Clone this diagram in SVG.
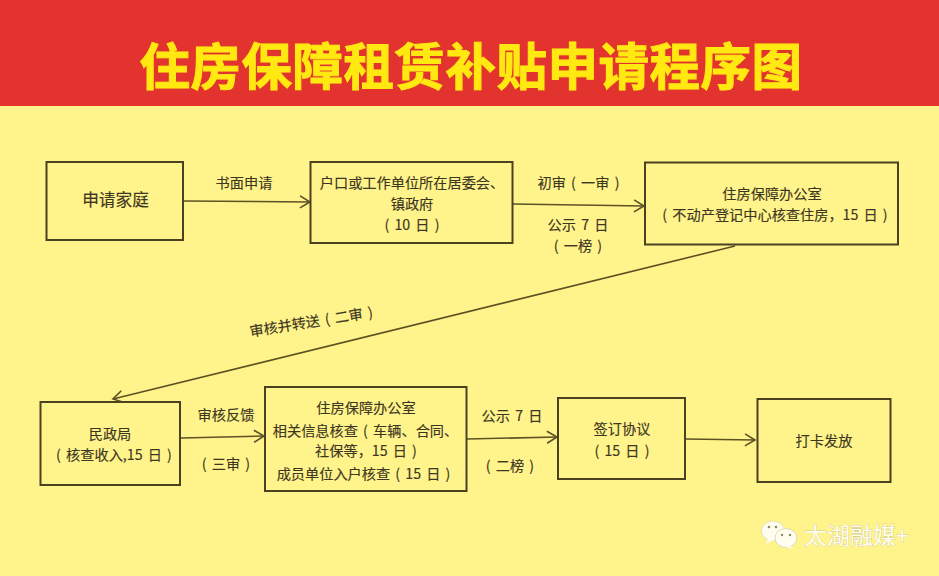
<svg xmlns="http://www.w3.org/2000/svg" width="939" height="576" viewBox="0 0 939 576">
<style>
text{font-family:"Noto Sans CJK SC","Liberation Sans",sans-serif;fill:#3d3620;font-size:14.2px;text-anchor:middle;stroke:#3d3620;stroke-width:.15px;word-spacing:2px}
.box{fill:#fff38c;stroke:#4a4120;stroke-width:2}
.line{fill:none;stroke:#5c5224;stroke-width:1.6}
.title{font-size:50.5px;font-weight:700;fill:#ffe911;stroke:#ffe911;stroke-width:1px;letter-spacing:.5px}
.wm{fill:#fffdf0;stroke:#a5a07e;stroke-width:.35px;paint-order:stroke;font-size:23px;font-weight:400;text-anchor:start}
</style>
<defs>
<marker id="arrow" markerUnits="userSpaceOnUse" markerWidth="14" markerHeight="16" refX="11" refY="7" orient="auto" overflow="visible">
<path d="M1 1 L11 7 L1 13" fill="none" stroke="#5c5224" stroke-width="1.6"/>
</marker>
</defs>
<rect width="939" height="576" fill="#fff38c"/>
<rect id="banner" width="939" height="106" fill="#e3332e"/>
<text class="title" x="471" y="85">住房保障租赁补贴申请程序图</text>

<g id="connectors">
<path class="line" marker-end="url(#arrow)" d="M184 201 L310 202"/>
<path class="line" marker-end="url(#arrow)" d="M513 204 L644 206"/>
<path class="line" marker-end="url(#arrow)" d="M735 246 L113 399"/>
<path class="line" marker-end="url(#arrow)" d="M181 438 L264 436"/>
<path class="line" marker-end="url(#arrow)" d="M467 439 L557 437"/>
<path class="line" marker-end="url(#arrow)" d="M686 439 L755 440"/>
</g>

<g id="node-family"><rect class="box" x="46.500" y="162" width="136.500" height="78"/><text x="115.500" y="206" style="font-size:16.700px">申请家庭</text></g>
<g id="node-committee"><rect class="box" x="310.500" y="162" width="202" height="81"/>
<text x="412" y="188">户口或工作单位所在居委会、</text><text x="412" y="209">镇政府</text><text x="412" y="230">( 10 日 )</text></g>
<g id="node-office-top"><rect class="box" x="645" y="162.500" width="253" height="82"/>
<text x="772" y="199">住房保障办公室</text><text x="775" y="220">( 不动产登记中心核查住房，15 日 )</text></g>
<g id="node-civil"><rect class="box" x="40.500" y="402" width="139.500" height="83"/>
<text x="110" y="439">民政局</text><text x="114" y="460">( 核查收入,15 日 )</text></g>
<g id="node-office-mid"><rect class="box" x="265" y="387" width="201.500" height="104"/>
<text x="366" y="413">住房保障办公室</text><text x="365.500" y="436">相关信息核查 ( 车辆、合同、</text><text x="366" y="456">社保等，15 日 )</text><text x="363.500" y="479">成员单位入户核查 ( 15 日 )</text></g>
<g id="node-sign"><rect class="box" x="558" y="398" width="127" height="81"/>
<text x="622" y="434">签订协议</text><text x="622" y="456">( 15 日 )</text></g>
<g id="node-pay"><rect class="box" x="757.500" y="399" width="133" height="83"/>
<text x="824" y="446">打卡发放</text></g>

<g id="edge-labels">
<text x="244" y="188">书面申请</text>
<text x="578.500" y="188">初审 ( 一审 )</text>
<text x="578" y="230">公示 7 日</text>
<text x="578" y="251">( 一榜 )</text>
<text x="312" y="327" transform="rotate(-9 312 327)">审核并转送 ( 二审 )</text>
<text x="226" y="420">审核反馈</text>
<text x="226" y="469">( 三审 )</text>
<text x="512" y="421">公示 7 日</text>
<text x="510" y="471">( 二榜 )</text>
</g>

<g id="watermark">
<ellipse cx="773" cy="531" rx="11.500" ry="10" fill="#fffdf0" stroke="#d8d3a6" stroke-width=".6"/>
<path d="M768 539 L766 544 L774 540Z" fill="#fffdf0"/>
<ellipse cx="786" cy="538" rx="11" ry="9.500" fill="#fffdf0" stroke="#d8d3a6" stroke-width=".8"/>
<path d="M790 546 L794 549 L786 547Z" fill="#fffdf0"/>
<circle cx="769" cy="527" r="1.300" fill="#8a8a60"/><circle cx="776" cy="527" r="1.300" fill="#8a8a60"/>
<circle cx="782" cy="535" r="1.200" fill="#8a8a60"/><circle cx="790" cy="535" r="1.200" fill="#8a8a60"/>
<text class="wm" x="804" y="544">太湖融媒+</text>
</g>
</svg>
